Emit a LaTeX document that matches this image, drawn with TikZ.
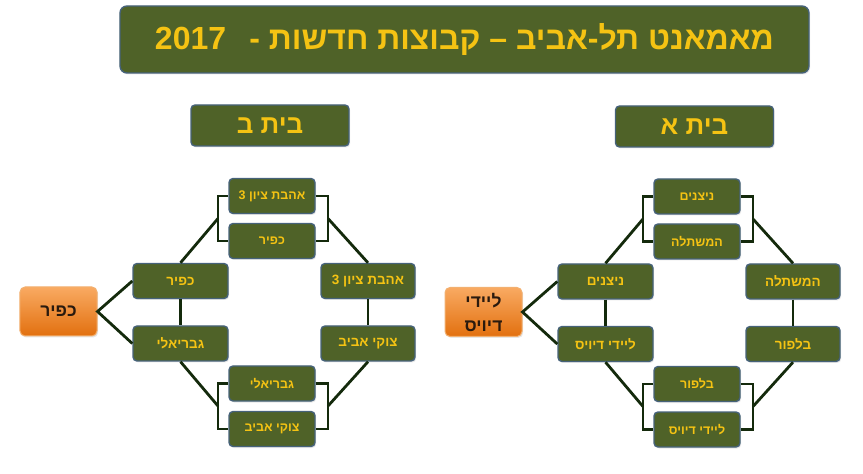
\documentclass[tikz,border=0pt]{standalone}
\usepackage{fontspec}
\newfontfamily\heb[Script=Hebrew]{Liberation Sans}
\TeXXeTstate=1
\usetikzlibrary{shadows}
\newcommand\rtl[1]{\beginR#1\endR}
\definecolor{olive}{HTML}{4F6228}
\definecolor{boxedge}{HTML}{46627A}
\definecolor{gold}{HTML}{F5C313}
\definecolor{linegreen}{HTML}{142A0C}
\definecolor{orangetop}{HTML}{F9AA62}
\definecolor{orangebot}{HTML}{E2700F}
\definecolor{orangeedge}{HTML}{F2B070}
\definecolor{wintext}{HTML}{2A1A0E}
\tikzset{
  gbox/.style={rounded corners=4bp, fill=olive, draw=boxedge, line width=1.4bp,
    text=gold, inner sep=0pt, minimum height=35bp,
    drop shadow={opacity=0.18, shadow xshift=1.2bp, shadow yshift=-1.5bp}},
  semibox/.style={gbox, minimum width=95bp, font=\heb\bfseries\fontsize{13.5bp}{15bp}\selectfont},
  qfbox/.style={gbox, minimum width=86bp, font=\heb\bfseries\fontsize{12.5bp}{14bp}\selectfont},
  headbox/.style={gbox, minimum width=158bp, minimum height=41bp, font=\heb\bfseries\fontsize{26bp}{28bp}\selectfont},
  titlebox/.style={gbox, rounded corners=7bp, minimum width=689bp, minimum height=67bp, font=\heb\bfseries\fontsize{32bp}{36bp}\selectfont},
  winbox/.style={rounded corners=5bp, top color=orangetop, bottom color=orangebot,
    draw=orangeedge, line width=1bp, text=wintext, inner sep=0pt,
    minimum width=77bp, minimum height=49bp, align=center,
    font=\heb\bfseries\fontsize{17.5bp}{24bp}\selectfont,
    drop shadow={opacity=0.2, shadow xshift=1.2bp, shadow yshift=-1.5bp}},
  conn/.style={draw=linegreen, line width=2.8bp, line join=miter}
}
\begin{document}
\begin{tikzpicture}[x=1bp, y=-1bp]
\useasboundingbox (0,0) rectangle (863,474);
% title
\node[titlebox] (title) at (464.5,39.5) {\rtl{מאמאנט תל-אביב – קבוצות חדשות -\hspace{0.45em} \beginL 2017\endL}};
% headers
\node[headbox] (hB) at (270,125.5) {\rtl{בית ב}};
\node[headbox] (hA) at (694.5,126.5) {\rtl{בית א}};

% ---------- left bracket (בית ב) ----------
\node[winbox] (LW) at (58.5,311.5) {\rtl{כפיר}};
\node[semibox] (LS1) at (180.5,281) {\rtl{כפיר}};
\node[semibox] (LS2) at (180.5,343.5) {\rtl{גבריאלי}};
\node[qfbox] (LQ1) at (272,196) {\rtl{אהבת ציון 3}};
\node[qfbox] (LQ2) at (272,241) {\rtl{כפיר}};
\node[qfbox] (LQ3) at (272,383.5) {\rtl{גבריאלי}};
\node[qfbox] (LQ4) at (272,429) {\rtl{צוקי אביב}};
\node[semibox, minimum width=94bp] (LR1) at (368,281) {\rtl{אהבת ציון 3}};
\node[semibox, minimum width=94bp] (LR2) at (368,343.5) {\rtl{צוקי אביב}};

\coordinate (LbTL) at (218,218.5);
\coordinate (LbTR) at (328,218.5);
\coordinate (LbBL) at (218,406);
\coordinate (LbBR) at (328,406);

\draw[conn] (LQ1.west) -| (LbTL) |- (LQ2.west);
\draw[conn] (LQ1.east) -| (LbTR) |- (LQ2.east);
\draw[conn] (LQ3.west) -| (LbBL) |- (LQ4.west);
\draw[conn] (LQ3.east) -| (LbBR) |- (LQ4.east);
\draw[conn] (LbTL) -- (LS1.north);
\draw[conn] (LbTR) -- (LR1.north);
\draw[conn] (LbBL) -- (LS2.south);
\draw[conn] (LbBR) -- (LR2.south);
\draw[conn] (LS1.south) -- (LS2.north);
\draw[conn] (LR1.south) -- (LR2.north);
\draw[conn] (LS1.west) -- (LW.east) -- (LS2.west);

% ---------- right bracket (בית א) ----------
\node[winbox] (RW) at (483.5,312) {\rtl{ליידי}\\\rtl{דיויס}};
\node[semibox] (RS1) at (605.5,281.5) {\rtl{ניצנים}};
\node[semibox] (RS2) at (605.5,344) {\rtl{ליידי דיויס}};
\node[qfbox] (RQ1) at (697,196.5) {\rtl{ניצנים}};
\node[qfbox] (RQ2) at (697,241.5) {\rtl{המשתלה}};
\node[qfbox] (RQ3) at (697,384) {\rtl{בלפור}};
\node[qfbox] (RQ4) at (697,429.5) {\rtl{ליידי דיויס}};
\node[semibox, minimum width=94bp] (RR1) at (793,281.5) {\rtl{המשתלה}};
\node[semibox, minimum width=94bp] (RR2) at (793,344) {\rtl{בלפור}};

\coordinate (RbTL) at (643,219);
\coordinate (RbTR) at (753,219);
\coordinate (RbBL) at (643,406.5);
\coordinate (RbBR) at (753,406.5);

\draw[conn] (RQ1.west) -| (RbTL) |- (RQ2.west);
\draw[conn] (RQ1.east) -| (RbTR) |- (RQ2.east);
\draw[conn] (RQ3.west) -| (RbBL) |- (RQ4.west);
\draw[conn] (RQ3.east) -| (RbBR) |- (RQ4.east);
\draw[conn] (RbTL) -- (RS1.north);
\draw[conn] (RbTR) -- (RR1.north);
\draw[conn] (RbBL) -- (RS2.south);
\draw[conn] (RbBR) -- (RR2.south);
\draw[conn] (RS1.south) -- (RS2.north);
\draw[conn] (RR1.south) -- (RR2.north);
\draw[conn] (RS1.west) -- (RW.east) -- (RS2.west);
\end{tikzpicture}
\end{document}
